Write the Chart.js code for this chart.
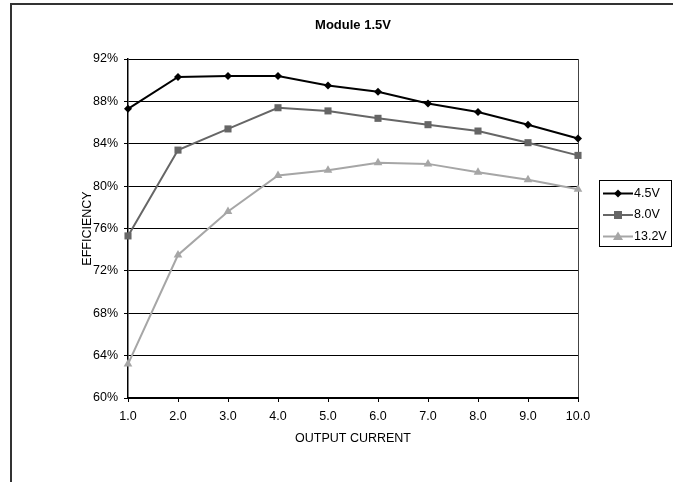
<!DOCTYPE html>
<html>
<head>
<meta charset="utf-8">
<script src="https://cdn.jsdelivr.net/npm/chart.js@4.4.1/dist/chart.umd.min.js"></script>
<style>
  html, body { margin: 0; padding: 0; background: #fff; }
  #wrap { width: 673px; height: 482px; }
</style>
</head>
<body>
<div id="wrap"><canvas id="myChart" width="673" height="482"></canvas></div>
<script>
var currents = ['1.0', '2.0', '3.0', '4.0', '5.0', '6.0', '7.0', '8.0', '9.0', '10.0'];
var eff45 = [87.3, 90.3, 90.4, 90.4, 89.5, 88.9, 87.8, 87.0, 85.8, 84.5];
var eff80 = [75.3, 83.4, 85.4, 87.4, 87.1, 86.4, 85.8, 85.2, 84.1, 82.9];
var eff132 = [63.2, 73.5, 77.6, 81.0, 81.5, 82.2, 82.1, 81.3, 80.6, 79.7];
var yTicks = [60, 64, 68, 72, 76, 80, 84, 88, 92];

var font = 'Liberation Sans, Arial, sans-serif';
var fs = 12.5;

// white page, outer frame (top and left edge only) and the title over the plot
var framePlugin = {
    id: 'frame',
    beforeDraw: function(chart) {
        var c = chart.ctx;
        c.save();
        c.fillStyle = '#fff';
        c.fillRect(0, 0, chart.width, chart.height);
        c.strokeStyle = '#333';
        c.lineWidth = 2;
        c.beginPath();
        c.moveTo(673, 4);
        c.lineTo(11, 4);
        c.lineTo(11, 482);
        c.stroke();
        var a = chart.chartArea;
        c.fillStyle = '#000';
        c.font = 'bold 13px ' + font;
        c.textAlign = 'center';
        c.textBaseline = 'middle';
        c.fillText('Module 1.5V', (a.left + a.right) / 2, 25);
        c.restore();
    }
};

// boxed legend to the right of the plot
var legendPlugin = {
    id: 'boxLegend',
    afterDraw: function(chart) {
        var c = chart.ctx;
        c.save();
        c.strokeStyle = '#000';
        c.lineWidth = 1;
        c.strokeRect(599.5, 180.5, 72, 66);
        chart.data.datasets.forEach(function(ds, i) {
            var y = 193.5 + i * 21.5;
            c.strokeStyle = ds.borderColor;
            c.lineWidth = 2;
            c.beginPath();
            c.moveTo(603, y);
            c.lineTo(633, y);
            c.stroke();
            c.fillStyle = ds.backgroundColor;
            var r = ds.pointRadius;
            c.beginPath();
            if (ds.pointStyle === 'rectRot') {
                c.moveTo(618, y - r); c.lineTo(618 + r, y); c.lineTo(618, y + r); c.lineTo(618 - r, y);
            } else if (ds.pointStyle === 'rect') {
                c.rect(618 - r * 0.8, y - r * 0.8, r * 1.6, r * 1.6);
            } else {
                c.moveTo(618, y - r); c.lineTo(618 + r, y + r * 0.7); c.lineTo(618 - r, y + r * 0.7);
            }
            c.closePath();
            c.fill();
            c.fillStyle = '#000';
            c.font = fs + 'px ' + font;
            c.textBaseline = 'middle';
            c.textAlign = 'left';
            c.fillText(ds.label, 634, y);
        });
        c.restore();
    }
};

var ctx = document.getElementById('myChart').getContext('2d');

var myChart = new Chart(ctx, {
    type: 'line',
    data: {
        labels: currents,
        datasets: [{
            label: '4.5V',
            data: eff45,
            borderColor: '#000000',
            backgroundColor: '#000000',
            borderWidth: 2,
            pointStyle: 'rectRot',
            pointRadius: 4,
            pointBorderWidth: 0
        },
        {
            label: '8.0V',
            data: eff80,
            borderColor: '#666666',
            backgroundColor: '#666666',
            borderWidth: 2,
            pointStyle: 'rect',
            pointRadius: 5,
            pointBorderWidth: 0
        },
        {
            label: '13.2V',
            data: eff132,
            borderColor: '#a6a6a6',
            backgroundColor: '#a6a6a6',
            borderWidth: 2,
            pointStyle: 'triangle',
            pointRadius: 5,
            pointBorderWidth: 0
        }]
    },
    options: {
        responsive: false,
        animation: false,
        devicePixelRatio: 1,
        layout: {
            padding: { left: 80.5, right: 95, top: 59, bottom: 35.5 }
        },
        plugins: {
            legend: { display: false },
            tooltip: { enabled: false },
            title: { display: false }
        },
        scales: {
            x: {
                type: 'category',
                offset: false,
                afterFit: function(scale) { scale.height = 48.5; },
                grid: {
                    drawOnChartArea: true,
                    color: function(c) { return c.index === currents.length - 1 ? '#444' : 'rgba(0,0,0,0)'; },
                    tickColor: '#000',
                    tickLength: 4,
                    lineWidth: 1
                },
                border: { color: '#000', width: 2 },
                ticks: {
                    color: '#000',
                    font: { family: font, size: fs },
                    padding: 7,
                    maxRotation: 0,
                    autoSkip: false
                },
                title: {
                    display: true,
                    text: 'OUTPUT CURRENT',
                    color: '#000',
                    font: { family: font, size: fs },
                    padding: 0
                }
            },
            y: {
                min: yTicks[0],
                max: yTicks[yTicks.length - 1],
                afterFit: function(scale) { scale.width = 47.5; },
                afterBuildTicks: function(scale) {
                    scale.ticks = yTicks.map(function(v) { return { value: v }; });
                },
                grid: {
                    color: '#000',
                    tickColor: '#000',
                    tickLength: 4,
                    lineWidth: 1
                },
                border: { color: '#000', width: 1.5 },
                ticks: {
                    color: '#000',
                    font: { family: font, size: fs },
                    padding: 6,
                    callback: function(v) { return v + '%'; }
                },
                title: {
                    display: true,
                    text: 'EFFICIENCY',
                    color: '#000',
                    font: { family: font, size: fs },
                    padding: 0
                }
            }
        }
    },
    plugins: [framePlugin, legendPlugin]
});
</script>
</body>
</html>
